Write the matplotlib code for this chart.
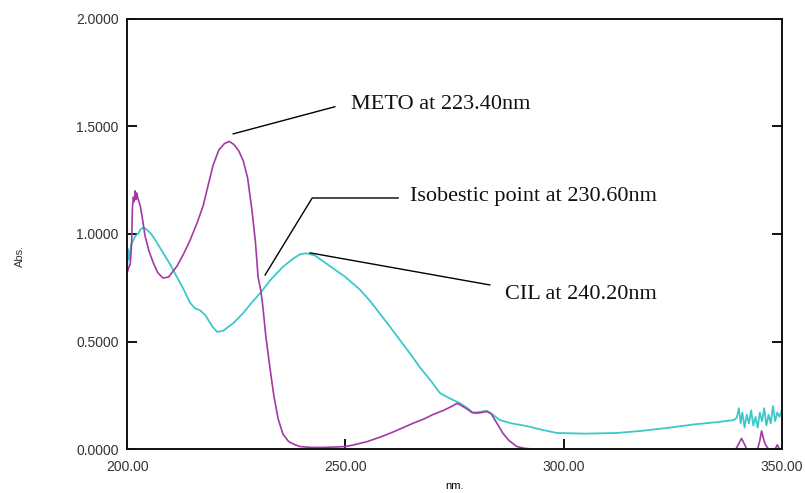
import matplotlib
matplotlib.use("Agg")
import matplotlib.pyplot as plt
import numpy as np

# METO spectrum (nm, Abs.)
meto_nm = [200.0, 200.3, 200.7, 201.0, 201.2, 201.4, 201.6, 201.8, 202.0, 202.2, 202.4, 202.7,
           203.0, 203.5, 204.1, 205.0, 206.0, 207.0, 208.2, 209.5, 211.4, 213.0, 214.4, 216.0,
           217.4, 218.6, 219.7, 221.0, 222.3, 223.4, 224.5, 225.6, 226.6, 227.6, 228.6, 229.4,
           230.0, 230.6, 231.0, 231.8, 232.7, 233.6, 234.6, 235.7, 237.0, 238.5, 239.6, 242.0,
           245.0, 248.0, 250.0, 252.0, 255.0, 258.0, 261.0, 265.5, 268.0, 270.0, 272.5, 274.5,
           275.6, 276.8, 278.0, 279.0, 280.1, 281.2, 282.4, 283.4, 284.3, 285.2, 286.1, 287.5,
           289.3, 291.0, 293.0, 300.0, 320.0, 339.5, 340.3, 340.8, 341.3, 342.0, 344.5, 345.0,
           345.4, 345.8, 346.3, 347.0, 348.5, 349.0, 349.5, 350.0]
meto_abs = [0.82, 0.84, 0.86, 0.95, 1.12, 1.17, 1.15, 1.20, 1.16, 1.19, 1.17, 1.15,
            1.13, 1.07, 0.99, 0.92, 0.865, 0.82, 0.795, 0.80, 0.85, 0.91, 0.97, 1.05,
            1.13, 1.23, 1.32, 1.39, 1.42, 1.43, 1.415, 1.385, 1.34, 1.26, 1.11, 0.96,
            0.80, 0.74, 0.68, 0.52, 0.38, 0.25, 0.14, 0.07, 0.035, 0.02, 0.012, 0.008,
            0.008, 0.01, 0.012, 0.02, 0.035, 0.056, 0.08, 0.12, 0.14, 0.16, 0.18, 0.20,
            0.213, 0.20, 0.185, 0.17, 0.167, 0.17, 0.175, 0.165, 0.135, 0.105, 0.074, 0.04,
            0.012, 0.004, 0.0, 0.0, 0.0, 0.0, 0.03, 0.05, 0.03, 0.0, 0.0, 0.04,
            0.085, 0.05, 0.02, 0.0, 0.0, 0.02, 0.0, 0.0]

# CIL spectrum
cil_nm = [200.0, 200.2, 200.5, 200.9, 201.4, 201.8, 202.5, 203.0, 203.7, 204.5, 205.5, 206.5,
          208.0, 209.8, 211.4, 213.0, 214.4, 215.5, 216.7, 218.0, 219.5, 220.6, 222.0, 224.3,
          226.5, 228.5, 230.5, 233.0, 235.7, 238.0, 239.6, 241.0, 243.0, 246.5, 250.0, 253.4,
          255.6, 257.9, 260.0, 262.5, 264.8, 267.1, 269.5, 271.7, 274.0, 276.3, 278.0, 279.2,
          280.5, 282.4, 283.5, 285.4, 288.0, 291.6, 295.0, 298.5, 305.0, 312.2, 318.0, 323.6,
          330.0, 335.0, 339.0, 339.7, 340.2, 340.6, 341.0, 341.5, 342.0, 342.5, 343.0, 343.5,
          344.0, 344.5, 345.0, 345.5, 346.0, 346.5, 347.0, 347.5, 348.0, 348.5, 349.0, 349.5,
          350.0]
cil_abs = [0.83, 0.93, 0.88, 0.95, 0.97, 0.99, 1.00, 1.02, 1.03, 1.02, 1.00, 0.97,
           0.92, 0.86, 0.80, 0.74, 0.68, 0.655, 0.645, 0.62, 0.57, 0.545, 0.55, 0.585,
           0.63, 0.68, 0.725, 0.79, 0.847, 0.885, 0.905, 0.91, 0.90, 0.85, 0.80, 0.74,
           0.69, 0.63, 0.575, 0.507, 0.445, 0.38, 0.32, 0.26, 0.235, 0.213, 0.19, 0.17,
           0.172, 0.178, 0.165, 0.135, 0.12, 0.107, 0.09, 0.075, 0.072, 0.075, 0.085, 0.098,
           0.115, 0.125, 0.135, 0.145, 0.19, 0.12, 0.17, 0.10, 0.16, 0.12, 0.18, 0.11,
           0.15, 0.10, 0.17, 0.13, 0.19, 0.11, 0.16, 0.12, 0.20, 0.13, 0.17, 0.15,
           0.18]

y_ticks = [0.0, 0.5, 1.0, 1.5, 2.0]
x_ticks = [200, 250, 300, 350]

fig = plt.figure(figsize=(8.05, 4.93), dpi=100)
ax = fig.add_axes([0.158, 0.089, 0.813, 0.873])

ax.plot(cil_nm, cil_abs, color='#3cc8c8', lw=1.3)
ax.plot(meto_nm, meto_abs, color='#a33aa3', lw=1.2)

ax.set_xlim(200, 350)
ax.set_ylim(0, 2)
ax.set_xticks(x_ticks)
ax.set_xticklabels(['%.2f' % v for v in x_ticks])
ax.set_yticks(y_ticks)
ax.set_yticklabels(['%.4f' % v for v in y_ticks])

for s in ax.spines.values():
    s.set_linewidth(1.4)
    s.set_color('#111111')

ax.tick_params(axis='both', direction='in', length=7, width=1.3, labelsize=10,
               labelcolor='#333333', right=True, top=False, labelright=False)
ax.tick_params(axis='x', pad=8)
ax.tick_params(axis='y', pad=6)
for lab in ax.get_xticklabels() + ax.get_yticklabels():
    lab.set_family('Liberation Sans')

ax.set_xlabel('nm.', fontsize=8, family='Liberation Sans', labelpad=5)
fig.text(0.025, 0.48, 'Abs.', rotation=90, fontsize=8, family='Liberation Sans',
         ha='center', va='center', color='#333333')

# annotations
ax.plot([224.3, 247.6], [1.465, 1.591], color='k', lw=1)
ax.text(251.3, 1.6, 'METO at 223.40nm', fontsize=16, family='Liberation Serif',
        va='center', color='#111111')

ax.plot([231.6, 242.4, 262.1], [0.809, 1.167, 1.167], color='k', lw=1)
ax.text(264.8, 1.172, 'Isobestic point at 230.60nm', fontsize=16, family='Liberation Serif',
        va='center', color='#111111')

ax.plot([241.9, 283.1], [0.912, 0.763], color='k', lw=1)
ax.text(286.6, 0.72, 'CIL at 240.20nm', fontsize=16, family='Liberation Serif',
        va='center', color='#111111')

fig.savefig('out.png', dpi=100)
